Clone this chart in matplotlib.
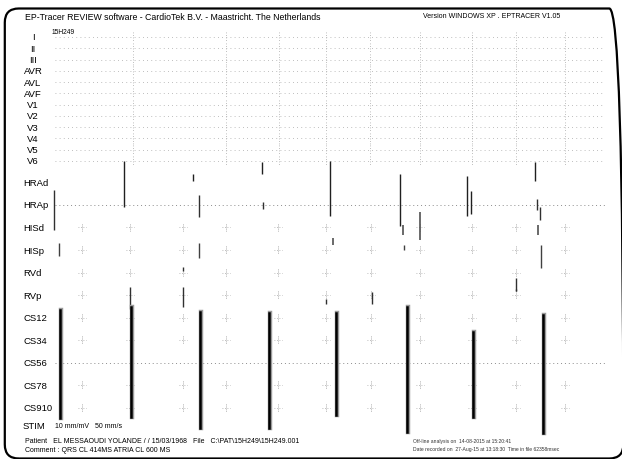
import numpy as np
import matplotlib.pyplot as plt
import matplotlib.transforms as mtransforms
from matplotlib.patches import FancyBboxPatch

plt.rcParams['font.family'] = ['Liberation Sans', 'DejaVu Sans']

# -----------------------------------------
# CHANNELS
# -----------------------------------------
ecg_leads = ["I", "II", "III", "AVR", "AVL", "AVF", "V1", "V2", "V3", "V4", "V5", "V6"]
ic_leads = ["HRAd", "HRAp", "HISd", "HISp", "RVd", "RVp",
            "CS12", "CS34", "CS56", "CS78", "CS910"]

# -----------------------------------------
# EVENTS (time in ms from start of window, amplitudes in mV, up / down)
# -----------------------------------------
qrs_ms = [498, 1056, 1374, 1656, 1920, 2220, 2532, 2796, 3090]
far_field_ms = [192, 480, 798, 1056, 1368, 1656, 1926, 2220, 2532, 2796, 3090]

hrad_ms = [444, 858, 1272, 1680, 2100, 2502, 2526, 2910]
hrad_up = [1.86, 0.7, 1.77, 1.86, 0.7, 0.53, -0.8, 1.77]
hrad_down = [2.2, -0.1, -0.7, 3.0, 3.9, 3.0, 2.84, -0.1]

hrap_ms = [24, 894, 1278, 2922, 2940]
hrap_up = [1.33, 0.9, 0.27, 0.53, -0.18]
hrap_down = [2.2, 1.06, 0.35, 0.44, 1.33]

hisd_ms = [1698, 2118, 2220, 2928]
hisd_up = [-0.9, 0.18, 1.33, 0.2]
hisd_down = [1.6, 0.7, 1.15, 0.7]

hisp_ms = [54, 894, 2124, 2946]
hisp_up = [0.62, 0.62, 0.4, 0.44]
hisp_down = [0.53, 0.71, 0.0, 1.6]

rvd_ms = [798, 2796]
rvd_up = [0.53, -0.44]
rvd_down = [-0.1, 1.68]

rvp_ms = [480, 798, 1656, 1932, 2796]
rvp_up = [0.71, 0.71, -0.36, 0.27, 0.53]
rvp_down = [1.2, 1.06, 0.8, 0.8, -0.36]

# coronary sinus ventricular complexes (span CS12 .. CS910)
cs_ms = [60, 486, 900, 1314, 1716, 2142, 2538, 2958]
cs_up = [0.71, 0.98, 0.53, 0.44, 0.44, 0.98, -1.24, 0.27]
cs_down = [0.89, 0.8, 1.77, 1.77, 0.62, 2.13, 0.8, 2.2]

title = "EP-Tracer REVIEW software - CardioTek B.V. - Maastricht. The Netherlands"
version = "Version WINDOWS XP . EPTRACER V1.05"
patient = "Patient   EL MESSAOUDI YOLANDE / / 15/03/1968   File   C:\\PAT\\15H249\\15H249.001"
comment = "Comment : QRS CL 414MS ATRIA CL 600 MS"
info1 = "Off-line analysis on  14-08-2015 at 15:20:41"
info2 = "Date recorded on  27-Aug-15 at 13:18:30  Time in file 62358msec"

# -----------------------------------------
# FIGURE
# -----------------------------------------
W, H = 622, 460
fig = plt.figure(figsize=(W / 100, H / 100), dpi=100)
ax = fig.add_axes([0, 0, 1, 1])
ax.axis("off")
ms_per_px = 6.0
row_px = 11.27
ax.set_xlim(-50 * ms_per_px, (W - 50) * ms_per_px)
ax.set_ylim((H - 38) / row_px, -38 / row_px)

ecg_y = np.arange(len(ecg_leads))
ic_y = 12.9 + 2.0 * np.arange(len(ic_leads))
stim_y = 34.5
t0, t1 = 30, 3330

faint = "#a8a8a8"
mid = "#8c8c8c"

def spikes(y0, times, up, down, color="black", lw=1.0):
    for t, u, d in zip(times, up, down):
        ax.plot([t, t], [y0 - u, y0 + d], color=color, lw=lw, solid_capstyle="butt")

# surface ECG: faint dotted traces
for y in ecg_y:
    ax.plot([t0, t1], [y, y], color=faint, lw=0.6, ls=(0, (1, 4)))
    for t in qrs_ms:
        ax.plot([t, t], [y - 0.45, y + 0.45], color=faint, lw=0.6, ls=(0, (1, 2)))

# intracardiac baselines
for name, y in zip(ic_leads, ic_y):
    if name in ("HRAp", "CS56"):
        ax.plot([t0, t1], [y, y], color=mid, lw=0.7, ls=(0, (1, 3)))
    elif name not in ("HRAd",):
        for t in far_field_ms:
            ax.plot([t - 24, t + 24], [y, y], color=faint, lw=0.6, ls=(0, (1, 2)))
            ax.plot([t, t], [y - 0.35, y + 0.35], color=mid, lw=0.6, ls=(0, (1, 1.5)))

ym = dict(zip(ic_leads, ic_y))
spikes(ym["HRAd"], hrad_ms, hrad_up, hrad_down, "#202020", 1.0)
spikes(ym["HRAp"], hrap_ms, hrap_up, hrap_down, "#303030", 1.0)
spikes(ym["HISd"], hisd_ms, hisd_up, hisd_down, "#505050", 1.2)
spikes(ym["HISp"], hisp_ms, hisp_up, hisp_down, "#404040", 1.0)
spikes(ym["RVd"], rvd_ms, rvd_up, rvd_down, "#303030", 1.0)
spikes(ym["RVp"], rvp_ms, rvp_up, rvp_down, "#303030", 1.0)

# CS ventricular complexes
for t, u, d in zip(cs_ms, cs_up, cs_down):
    ax.plot([t + 6, t + 6], [ym["CS12"] - u, ym["CS910"] + d], color="#9a9a9a", lw=3.2)
    ax.plot([t, t], [ym["CS12"] - u, ym["CS910"] + d], color="black", lw=1.8)

# labels
lab_tr = mtransforms.blended_transform_factory(fig.transFigure, ax.transData)
for name, y in zip(ecg_leads, ecg_y):
    ax.text(33 / W, y, name, transform=lab_tr, ha="center", va="center", fontsize=6.8)
for name, y in zip(ic_leads, ic_y):
    ax.text(23 / W, y, name, transform=lab_tr, ha="left", va="center", fontsize=6.8)
ax.text(23 / W, stim_y, "STIM", transform=lab_tr, ha="left", va="center", fontsize=6.8)
ax.text(55 / W, stim_y, "10 mm/mV   50 mm/s", transform=lab_tr, ha="left", va="center", fontsize=5)

def ftext(x, y, s, **kw):
    fig.text(x / W, 1 - y / H, s, va="center", ha="left", **kw)

ftext(25, 17, title, fontsize=6.35)
ftext(423, 17, version, fontsize=5.0)
ftext(52, 33, "15H249", fontsize=4.8)
ftext(25, 442, patient, fontsize=5)
ftext(25, 451, comment, fontsize=5)
ftext(413, 442, info1, fontsize=3.6, color="#333333")
ftext(413, 450, info2, fontsize=3.6, color="#333333")

# rounded frame (right and bottom edges fall just outside the image)
frame = FancyBboxPatch((0.048, 0.005), 6.185, 4.50,
                       boxstyle="round,pad=0,rounding_size=0.14",
                       transform=fig.dpi_scale_trans, fill=False,
                       ec="black", lw=1.6, clip_on=False)
fig.patches.append(frame)

fig.savefig("out.png", dpi=100)
